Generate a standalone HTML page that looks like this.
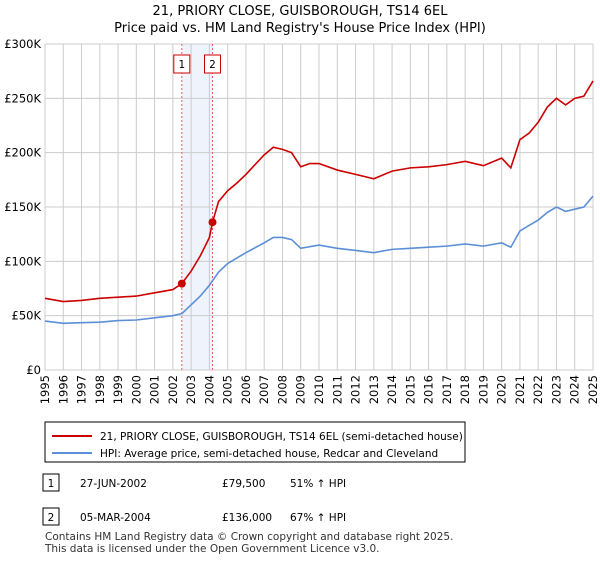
<!DOCTYPE html>
<html><head><meta charset="utf-8"><style>
body{margin:0;background:#fff;font-family:"DejaVu Sans","Liberation Sans",sans-serif;}
svg text{font-family:"DejaVu Sans","Liberation Sans",sans-serif;}
</style></head><body>
<svg width="600" height="560">
<text x="300" y="15" text-anchor="middle" font-size="13">21, PRIORY CLOSE, GUISBOROUGH, TS14 6EL</text>
<text x="300" y="32" text-anchor="middle" font-size="13">Price paid vs. HM Land Registry's House Price Index (HPI)</text>
<g id="grid"></g><g id="series"></g><g id="axes"></g>
<rect x="45" y="422" width="420" height="40" fill="#fff" stroke="#000"/>
<line x1="52" y1="436" x2="92" y2="436" stroke="#cc0000" stroke-width="2"/>
<text x="100" y="440" font-size="10.5">21, PRIORY CLOSE, GUISBOROUGH, TS14 6EL (semi-detached house)</text>
<line x1="52" y1="453" x2="92" y2="453" stroke="#5b8fd6" stroke-width="2"/>
<text x="100" y="457" font-size="10.5">HPI: Average price, semi-detached house, Redcar and Cleveland</text>
<rect x="43" y="474" width="16" height="17" fill="#fff" stroke="#000"/>
<text x="51" y="487" text-anchor="middle" font-size="10.5">1</text>
<text x="80" y="487" font-size="10.5">27-JUN-2002</text>
<text x="222" y="487" font-size="10.5">£79,500</text>
<text x="290" y="487" font-size="10.5">51% ↑ HPI</text>
<rect x="43" y="508" width="16" height="17" fill="#fff" stroke="#000"/>
<text x="51" y="521" text-anchor="middle" font-size="10.5">2</text>
<text x="80" y="521" font-size="10.5">05-MAR-2004</text>
<text x="222" y="521" font-size="10.5">£136,000</text>
<text x="290" y="521" font-size="10.5">67% ↑ HPI</text>
<text x="45" y="540" font-size="10.5" fill="#333">Contains HM Land Registry data © Crown copyright and database right 2025.</text>
<text x="45" y="552" font-size="10.5" fill="#333">This data is licensed under the Open Government Licence v3.0.</text>
</svg>
<script>
const hpiYears=[1995,1996,1997,1998,1999,2000,2001,2002,2002.5,2003,2003.5,2004,2004.5,2005,2005.5,2006,2007,2007.5,2008,2008.5,2009,2010,2011,2012,2013,2014,2015,2016,2017,2018,2019,2020,2020.5,2021,2021.5,2022,2022.5,2023,2023.5,2024,2024.5,2025];
const hpiValues=[45,43,43.5,44,45.5,46,48,50,52,60,68,78,90,98,103,108,117,122,122,120,112,115,112,110,108,111,112,113,114,116,114,117,113,128,133,138,145,150,146,148,150,160];
const priceYears=[1995,1996,1997,1998,1999,2000,2001,2002,2002.49,2003,2003.5,2004,2004.17,2004.5,2005,2005.5,2006,2007,2007.5,2008,2008.5,2009,2009.5,2010,2011,2012,2013,2014,2015,2016,2017,2018,2019,2020,2020.5,2021,2021.5,2022,2022.5,2023,2023.5,2024,2024.5,2025];
const priceValues=[66,63,64,66,67,68,71,74,79.5,91,105,122,136,155,165,172,180,198,205,203,200,187,190,190,184,180,176,183,186,187,189,192,188,195,186,212,218,228,242,250,244,250,252,266];
const saleYears=[2002.49,2004.17];
const saleValues=[79.5,136];
const saleLabels=["1","2"];
const yTicks=[0,50,100,150,200,250,300];
const yTickLabels=["£0","£50K","£100K","£150K","£200K","£250K","£300K"];
const x0=45,x1=593,y0=370,y1=44;
const X=y=>x0+(y-1995)/30*(x1-x0);
const Y=v=>y0-v/300*(y0-y1);
const NS="http://www.w3.org/2000/svg";
function mk(p,t,a){const e=document.createElementNS(NS,t);for(const k in a)e.setAttribute(k,a[k]);p.appendChild(e);return e;}
const grid=document.getElementById('grid'),ser=document.getElementById('series'),ax=document.getElementById('axes');
const band=mk(grid,'rect',{x:X(saleYears[0]),y:y1,width:X(saleYears[1])-X(saleYears[0]),height:y0-y1,fill:'#eef3fc'});


for(let yr=1995;yr<=2025;yr++){
 const l=mk(grid,'line',{x1:X(yr),x2:X(yr),y1:y1,y2:y0,stroke:'#cccccc'});
 
 
 const t=mk(ax,'text',{transform:`translate(${X(yr)+4},${y0+5}) rotate(-90)`,'text-anchor':'end','font-size':'11.5'});
 t.textContent=yr;
 
 
}
yTicks.forEach((v,i)=>{
 const l=mk(grid,'line',{x1:x0,x2:x1,y1:Y(v),y2:Y(v),stroke:'#cccccc'});
 
 
 const t=mk(ax,'text',{x:x0-4,y:Y(v)+4,'text-anchor':'end','font-size':'11.5'});
 t.textContent=yTickLabels[i];
 
 
});
saleYears.forEach((yr,i)=>{
 const l=mk(grid,'line',{x1:X(yr),x2:X(yr),y1:y1,y2:y0,stroke:'#e06060','stroke-dasharray':'2,2'});
 
 
 const r=mk(ax,'rect',{x:X(yr)-8,y:55,width:16,height:18,fill:'#fff',stroke:'#cc0000'});
 
 
 const t=mk(ax,'text',{x:X(yr),y:68,'text-anchor':'middle','font-size':'10.5'});
 t.textContent=saleLabels[i];
});
function line(xs,vs,col,name){
 const p=mk(ser,'polyline',{points:xs.map((x,i)=>X(x)+','+Y(vs[i])).join(' '),fill:'none',stroke:col,'stroke-width':'1.6'});
 
 
}
line(hpiYears,hpiValues,'#5b8fd6','hpi-line');
line(priceYears,priceValues,'#cc0000','price-line');
saleYears.forEach((yr,i)=>{
 const c=mk(ser,'circle',{cx:X(yr),cy:Y(saleValues[i]),r:4,fill:'#cc0000'});
 
 
});
</script>
</body></html>
